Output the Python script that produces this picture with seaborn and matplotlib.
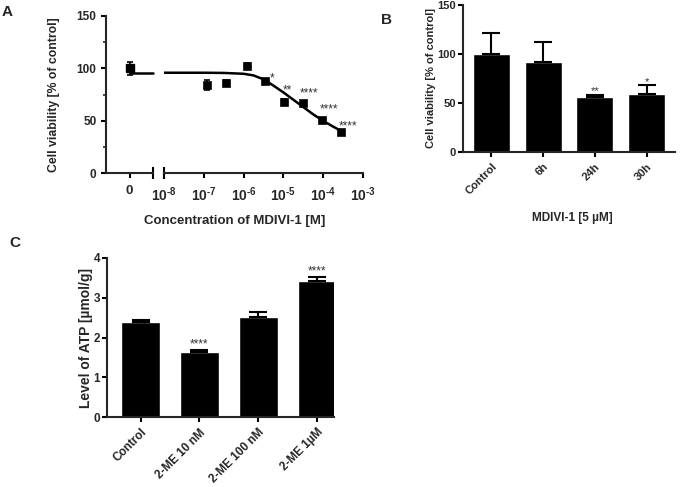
import numpy as np
import pandas as pd
import seaborn as sns
import matplotlib.pyplot as plt
from matplotlib.ticker import LogLocator, NullFormatter, FixedLocator

sns.set_style('ticks')
plt.rcParams['font.family'] = ['Liberation Sans', 'DejaVu Sans']
plt.rcParams['font.weight'] = 'bold'
plt.rcParams['axes.labelweight'] = 'bold'
plt.rcParams['mathtext.fontset'] = 'custom'
plt.rcParams['mathtext.bf'] = 'Liberation Sans:bold'
plt.rcParams['mathtext.rm'] = 'Liberation Sans:bold'
plt.rcParams['mathtext.it'] = 'Liberation Sans:bold'
plt.rcParams['mathtext.default'] = 'bf'

# --- panel A: dose response ---
a_conc = [1.2e-7, 3.7e-7, 1.2e-6, 3.5e-6, 1.05e-5, 3.1e-5, 9.5e-5, 2.8e-4]
a_via = [84, 86, 102, 88, 68, 66.5, 50.6, 39]
a_err = [5, 3, 3, 2, 3, 2, 2, 2]
a_ctrl = 100
a_ctrl_err = 6
a_stars = ['', '', '', '*', '**', '****', '****', '****']
# fitted curve (log10 conc, % viability)
fit_logc = [-8.0, -7.0, -6.5, -6.0, -5.75, -5.5, -5.25, -5.0, -4.75, -4.5, -4.25, -4.0, -3.75, -3.55]
fit_via = [95.8, 95.8, 95.6, 94.8, 93.2, 89.5, 83.5, 77, 70, 63, 56, 49.8, 44.3, 40.2]
fit_top = 95.8
a_xticks = [1e-8, 1e-7, 1e-6, 1e-5, 1e-4, 1e-3]
a_xticklabels = [r'$10^{\text{-}8}$', r'$10^{\text{-}7}$', r'$10^{\text{-}6}$',
                 r'$10^{\text{-}5}$', r'$10^{\text{-}4}$', r'$10^{\text{-}3}$']

# --- panel B ---
b_groups = ['Control', '6h', '24h', '30h']
b_mean = [100, 92, 56, 59]
b_sd = [21, 20.5, 2, 9]
b_stars = ['', '', '**', '*']

# --- panel C ---
c_groups = ['Control', '2-ME 10 nM', '2-ME 100 nM', '2-ME 1\u00b5M']
c_mean = [2.38, 1.64, 2.52, 3.41]
c_sd = [0.07, 0.05, 0.11, 0.11]
c_stars = ['', '****', '', '****']

# star offsets in points for panel A (relative to each point)
a_star_off = [(0, 0), (0, 0), (0, 0), (4.8, -2.9), (2.2, 3.8), (4.5, 2.6), (5.0, 3.3), (5.3, -0.5)]

W, H = 685, 487
fig = plt.figure(figsize=(6.85, 4.87), dpi=100)


def px_axes(x0, y0, x1, y1):
    return fig.add_axes([x0 / W, 1 - y1 / H, (x1 - x0) / W, (y1 - y0) / H])


def style(ax, left=True):
    sns.despine(ax=ax, left=not left)
    for s in ['left', 'bottom']:
        ax.spines[s].set_linewidth(1.5)
    ax.tick_params(width=1.5, length=3.8, color='black', direction='out', pad=3)


axA1 = px_axes(106, 16, 153, 173)
axA2 = px_axes(164, 16, 363, 173)
axB = px_axes(463, 5, 675, 152)
axC = px_axes(107, 258, 334, 417)

# A left segment (zero concentration)
style(axA1)
axA1.set_xlim(-1, 1)
axA1.set_ylim(0, 150)
axA1.errorbar([0], [a_ctrl], yerr=[a_ctrl_err], fmt='s', color='black', ms=5.5,
              capsize=2.5, elinewidth=1.2, capthick=1.2)
axA1.plot([0, 1], [fit_top, fit_top], color='black', lw=1.8, clip_on=False)
axA1.set_xticks([0])
axA1.set_xticklabels(['0'], fontsize=9.5)
axA1.set_yticks([0, 50, 100, 150])
axA1.yaxis.set_minor_locator(FixedLocator([25, 75, 125]))
axA1.tick_params(axis='y', which='minor', length=2.5, width=1.2)
axA1.tick_params(axis='y', labelsize=8.5)
axA1.tick_params(axis='x', pad=5)
axA1.plot([1], [0], marker='|', ms=9, mew=1.5, color='black', transform=axA1.transAxes, clip_on=False)
axA1.set_ylabel('Cell viability [% of control]', fontsize=8.8)
axA1.yaxis.set_label_coords(60 / W, 1 - 95 / H, transform=fig.transFigure)

# A right segment (log concentrations)
style(axA2, left=False)
axA2.set_xscale('log')
axA2.set_xlim(1e-8, 1e-3)
axA2.set_ylim(0, 150)
axA2.set_yticks([])
sns.lineplot(x=10 ** np.array(fit_logc), y=fit_via, color='black', lw=1.8, ax=axA2)
axA2.errorbar(a_conc, a_via, yerr=a_err, fmt='none', ecolor='black', capsize=2.5,
              elinewidth=1.2, capthick=1.2)
sns.scatterplot(x=a_conc, y=a_via, marker='s', color='black', s=36, edgecolor='black', ax=axA2, zorder=5)
for c, v, s, off in zip(a_conc, a_via, a_stars, a_star_off):
    if s:
        axA2.annotate(s, (c, v), xytext=off, textcoords='offset points', ha='center', va='bottom',
                      fontsize=8.5, fontweight='normal', color='0.2')
axA2.xaxis.set_major_locator(FixedLocator(a_xticks))
axA2.set_xticklabels(a_xticklabels, fontsize=10)
axA2.xaxis.set_minor_locator(LogLocator(base=10, subs=np.arange(2, 10)))
axA2.xaxis.set_minor_formatter(NullFormatter())
axA2.tick_params(axis='x', which='minor', length=2.5, width=1.2)
axA2.tick_params(axis='x', which='major', pad=5)
axA2.plot([0], [0], marker='|', ms=9, mew=1.5, color='black', transform=axA2.transAxes, clip_on=False)
fig.text(235 / W, 1 - 221 / H, 'Concentration of MDIVI-1 [M]', ha='center', va='center',
         fontsize=9.5, fontweight='bold')

# B bars
dfB = pd.DataFrame({'group': b_groups, 'value': b_mean})
sns.barplot(data=dfB, x='group', y='value', color='black', saturation=1, width=0.72,
            errorbar=None, ax=axB)
axB.errorbar(range(len(b_groups)), b_mean, yerr=[np.zeros(len(b_sd)), b_sd], fmt='none',
             ecolor='black', capsize=6.8, elinewidth=1.5, capthick=1.5)
for i, (m, sd, s) in enumerate(zip(b_mean, b_sd, b_stars)):
    if s:
        axB.annotate(s, (i, m + sd), xytext=(0, -1), textcoords='offset points', ha='center',
                     va='bottom', fontsize=8, fontweight='normal', color='0.2')
style(axB)
axB.set_xlim(-0.55, 3.55)
axB.set_ylim(0, 150)
axB.set_yticks([0, 50, 100, 150])
axB.tick_params(axis='y', labelsize=8, pad=1.2)
axB.set_xticks(range(len(b_groups)))
axB.set_xticklabels(b_groups, rotation=45, ha='right', rotation_mode='anchor', fontsize=8)
axB.set_xlabel('')
axB.set_ylabel('Cell viability [% of control]', fontsize=8)
axB.yaxis.set_label_coords(436 / W, 1 - 78 / H, transform=fig.transFigure)
fig.text(572 / W, 1 - 218 / H, 'MDIVI-1 [5 \u00b5M]', ha='center', va='center', fontsize=8.5,
         fontweight='bold')

# C bars
dfC = pd.DataFrame({'group': c_groups, 'value': c_mean})
sns.barplot(data=dfC, x='group', y='value', color='black', saturation=1, width=0.66,
            errorbar=None, ax=axC)
axC.errorbar(range(len(c_groups)), c_mean, yerr=[np.zeros(len(c_sd)), c_sd], fmt='none',
             ecolor='black', capsize=6.8, elinewidth=1.5, capthick=1.5)
for i, (m, sd, s) in enumerate(zip(c_mean, c_sd, c_stars)):
    if s:
        axC.annotate(s, (i, m + sd), xytext=(0, -0.5), textcoords='offset points', ha='center',
                     va='bottom', fontsize=8.5, fontweight='normal', color='0.2')
style(axC)
axC.set_xlim(-0.57, 3.29)
axC.set_ylim(0, 4)
axC.set_yticks([0, 1, 2, 3, 4])
axC.tick_params(axis='y', labelsize=8.5, pad=1)
axC.set_xticks(range(len(c_groups)))
axC.set_xticklabels(c_groups, rotation=45, ha='right', rotation_mode='anchor', fontsize=8.5)
axC.set_xlabel('')
axC.set_ylabel('Level of ATP [\u00b5mol/g]', fontsize=10)
axC.yaxis.set_label_coords(93 / W, 1 - 338 / H, transform=fig.transFigure)

# panel letters
fig.text(7 / W, 1 - 12 / H, 'A', ha='center', va='center', fontsize=11, fontweight='bold')
fig.text(387 / W, 1 - 20 / H, 'B', ha='center', va='center', fontsize=11, fontweight='bold')
fig.text(15 / W, 1 - 243 / H, 'C', ha='center', va='center', fontsize=11, fontweight='bold')

fig.savefig('out.png', dpi=100)
